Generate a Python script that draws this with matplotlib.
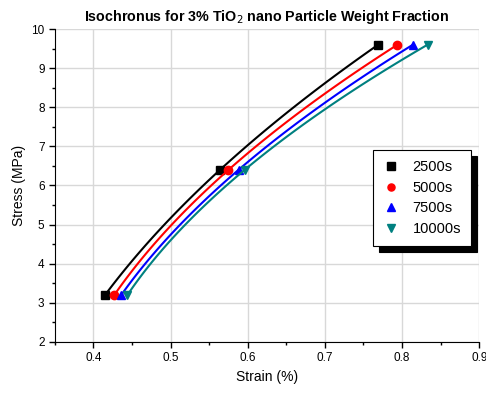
import numpy as np
import matplotlib
matplotlib.use("Agg")
import matplotlib.pyplot as plt

plt.rcParams["font.family"] = ["Liberation Sans", "DejaVu Sans"]

stress = [3.2, 6.4, 9.6]
strain_2500 = [0.415, 0.564, 0.769]
strain_5000 = [0.427, 0.575, 0.794]
strain_7500 = [0.436, 0.588, 0.814]
strain_10000 = [0.444, 0.596, 0.833]

SERIES = [
    ("2500s", strain_2500, "black", "s"),
    ("5000s", strain_5000, "red", "o"),
    ("7500s", strain_7500, "blue", "^"),
    ("10000s", strain_10000, "#008080", "v"),
]

fig = plt.figure(figsize=(4.86, 3.93), dpi=100)
ax = fig.add_axes([0.113, 0.130, 0.873, 0.796])

for name, xs, c, mk in SERIES:
    # smooth quadratic curve through the three points
    coef = np.polyfit(stress, xs, 2)
    yy = np.linspace(stress[0], stress[-1], 100)
    ax.plot(np.polyval(coef, yy), yy, color=c, lw=1.5)
    ax.plot(xs, stress, ls="none", marker=mk, color=c, ms=6, label=name)

ax.set_xlim(0.35, 0.9)
ax.set_ylim(2, 10)
ax.set_xticks([0.4, 0.5, 0.6, 0.7, 0.8, 0.9])
ax.set_xticklabels(["0.4", "0.5", "0.6", "0.7", "0.8", "0.9"])
ax.set_xticks(np.arange(0.35, 0.91, 0.05), minor=True)
ax.set_yticks(range(2, 11))
ax.set_yticks(np.arange(2, 10.01, 0.5), minor=True)
ax.grid(True, which="major", color="#d8d8d8", lw=1)
ax.set_axisbelow(True)
for s in ("top", "right"):
    ax.spines[s].set_visible(False)
ax.tick_params(labelsize=8.5, direction="out", length=4, width=1)
ax.tick_params(which="minor", direction="out", length=2.5, width=1)

ax.set_xlabel("Strain (%)", fontsize=10)
ax.set_ylabel("Stress (MPa)", fontsize=10)
ax.set_title("Isochronus for 3% TiO$_2$ nano Particle Weight Fraction",
             fontsize=10.3, fontweight="bold", pad=6)

leg = ax.legend(loc="upper left", bbox_to_anchor=(0.75, 0.613), borderaxespad=0,
                fontsize=10.5, markerscale=0.85,
                fancybox=False, edgecolor="black", framealpha=1,
                shadow={"color": "black", "alpha": 1, "ox": 4.5, "oy": -4},
                handletextpad=0.9, borderpad=0.7, labelspacing=0.45, handlelength=1.1)
leg.get_frame().set_linewidth(0.8)

fig.savefig("out.png", dpi=100)
